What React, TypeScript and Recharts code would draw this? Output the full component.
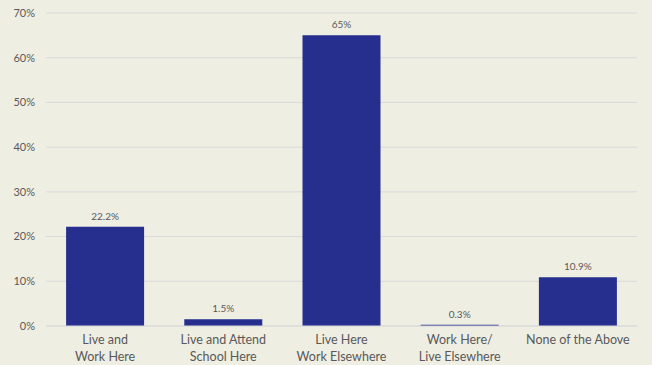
import React from "react";
import { BarChart, Bar, XAxis, YAxis, CartesianGrid, LabelList } from "recharts";

const categories = [
  "Live and\nWork Here",
  "Live and Attend\nSchool Here",
  "Live Here\nWork Elsewhere",
  "Work Here/\nLive Elsewhere",
  "None of the Above",
];
const shares = [22.2, 1.5, 65, 0.3, 10.9];
const valueLabels = ["22.2%", "1.5%", "65%", "0.3%", "10.9%"];
const yTicks = [0, 10, 20, 30, 40, 50, 60, 70];

const data = categories.map((name, i) => ({ name, value: shares[i], label: valueLabels[i] }));

const FONT = "Lato, 'Open Sans', sans-serif";
const TEXT = "#595959";

const CategoryTick = (props: any) => {
  const { x, y, payload } = props;
  const lines = String(payload.value).split("\n");
  return (
    <text x={x} y={y} textAnchor="middle" fill={TEXT} fontSize={12.5} fontFamily={FONT}>
      {lines.map((ln, i) => (
        <tspan key={i} x={x} y={y + 10 + i * 17}>
          {ln}
        </tspan>
      ))}
    </text>
  );
};

export default function App() {
  return (
    <div style={{ position: "absolute", left: 0, top: 0, width: 652, height: 365, background: "#efeee3" }}>
      <BarChart
        width={652}
        height={365}
        data={data}
        margin={{ top: 13, right: 15, left: 0, bottom: 0 }}
        barCategoryGap="17%"
      >
        <CartesianGrid vertical={false} stroke="#d9d9d9" strokeWidth={1} />
        <XAxis
          dataKey="name"
          interval={0}
          height={39}
          axisLine={{ stroke: "#d9d9d9" }}
          tickLine={false}
          tick={<CategoryTick />}
        />
        <YAxis
          width={46}
          domain={[0, 70]}
          ticks={yTicks}
          tickFormatter={(v: number) => `${v}%`}
          axisLine={false}
          tickLine={false}
          tickSize={0}
          tickMargin={11}
          tick={{ fill: TEXT, fontSize: 11, fontFamily: FONT }}
        />
        <Bar dataKey="value" fill="#262e8e" isAnimationActive={false}>
          <LabelList dataKey="label" position="top" offset={7} fill={TEXT} fontSize={10} fontFamily={FONT} />
        </Bar>
      </BarChart>
    </div>
  );
}
